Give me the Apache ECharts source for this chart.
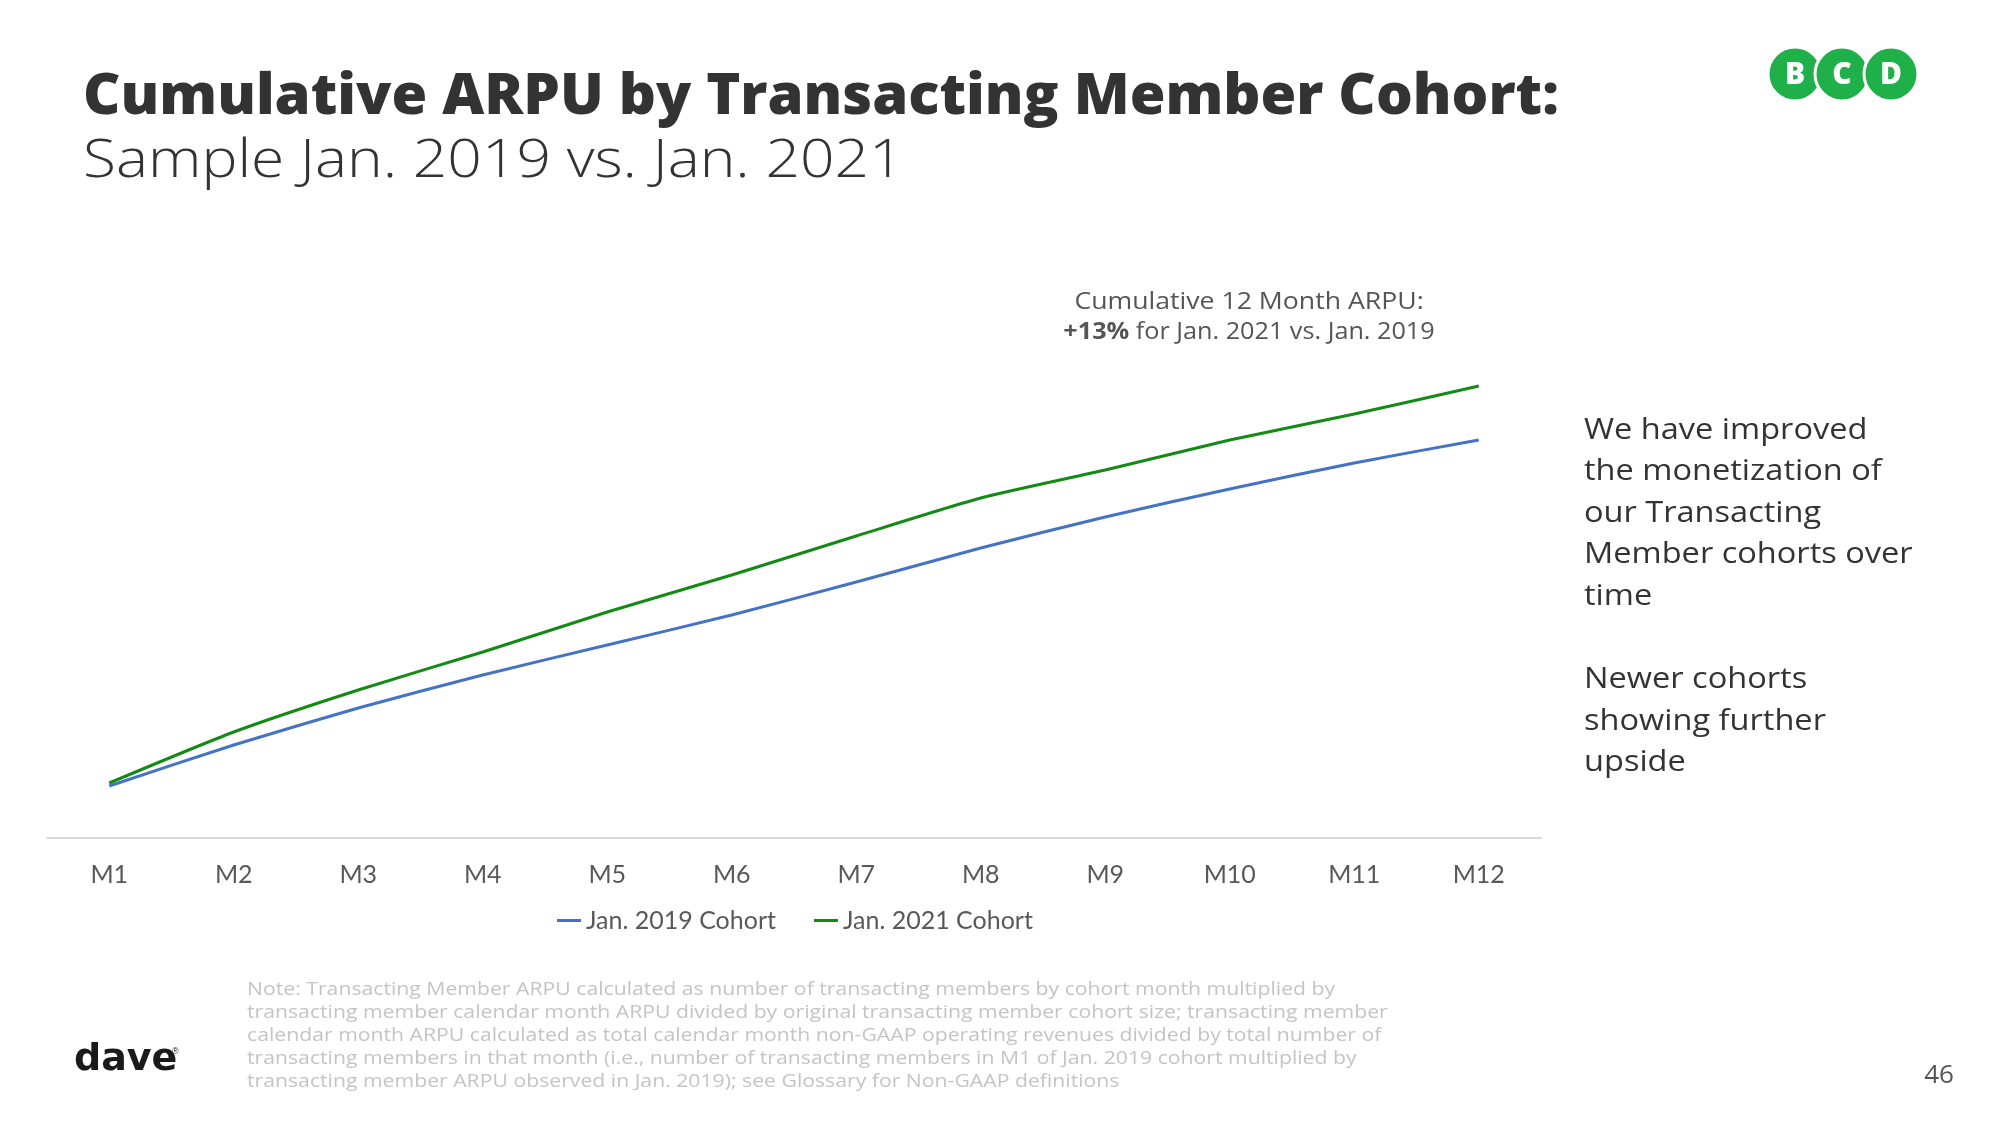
<!DOCTYPE html>
<html>
<head>
<meta charset="utf-8">
<script src="https://cdn.jsdelivr.net/npm/echarts@6/dist/echarts.min.js"></script>
<style>
html,body{margin:0;padding:0;background:#fff;}
#chart{width:2000px;height:1125px;}
</style>
</head>
<body>
<div id="chart"></div>
<script>
// ---- data ----
var categories = ['M1','M2','M3','M4','M5','M6','M7','M8','M9','M10','M11','M12'];
var cohort2019 = [10.4, 18.6, 26.0, 32.6, 38.6, 44.6, 51.2, 58.0, 64.2, 69.8, 75.0, 79.6];
var cohort2021 = [11.0, 21.2, 29.6, 37.2, 45.2, 52.6, 60.4, 68.0, 73.6, 79.6, 84.8, 90.4];
var seriesNames = ['Jan. 2019 Cohort', 'Jan. 2021 Cohort'];
var titleText = 'Cumulative ARPU by Transacting Member Cohort:';
var subtitleText = 'Sample Jan. 2019 vs. Jan. 2021';
var annoLine1 = 'Cumulative 12 Month ARPU:';
var annoBold = '+13%';
var annoRest = ' for Jan. 2021 vs. Jan. 2019';
var sideLines = ['We have improved','the monetization of','our Transacting','Member cohorts over','time','','Newer cohorts','showing further','upside'];
var noteLines = [
 'Note: Transacting Member ARPU calculated as number of transacting members by cohort month multiplied by',
 'transacting member calendar month ARPU divided by original transacting member cohort size; transacting member',
 'calendar month ARPU calculated as total calendar month non-GAAP operating revenues divided by total number of',
 'transacting members in that month (i.e., number of transacting members in M1 of Jan. 2019 cohort multiplied by',
 'transacting member ARPU observed in Jan. 2019); see Glossary for Non-GAAP definitions'
];
var pageNum = '46';

var chart = echarts.init(document.getElementById('chart'), null, {renderer:'canvas'});

var bodyFont = '"Open Sans", "DejaVu Sans", sans-serif';
var graphics = [];
graphics.push({type:'text', x:83, y:70, scaleX:1.033, style:{text:titleText, font:'800 56px "Open Sans", sans-serif', fill:'#333333', verticalAlign:'top'}});
graphics.push({type:'text', x:83, y:135, scaleX:1.12, style:{text:subtitleText, font:'300 54px "Open Sans", sans-serif', fill:'#333333', verticalAlign:'top'}});
// annotation
graphics.push({type:'text', x:1249, y:302, scaleX:1.11, style:{text:annoLine1, font:'400 24px '+bodyFont, fill:'#555555', align:'center', verticalAlign:'middle'}});
graphics.push({type:'text', x:1249, y:332, scaleX:1.05, style:{
  text:'{b|'+annoBold+'}{r|'+annoRest+'}', align:'center', verticalAlign:'middle',
  rich:{b:{font:'700 24px '+bodyFont, fill:'#555555'}, r:{font:'400 24px '+bodyFont, fill:'#555555'}}
}});
// side text
sideLines.forEach(function(t,i){
  if(!t) return;
  graphics.push({type:'text', x:1584, y:430+i*41.6, scaleX:1.085, style:{text:t, font:'400 30px '+bodyFont, fill:'#333333', verticalAlign:'middle'}});
});
// note
noteLines.forEach(function(t,i){
  graphics.push({type:'text', x:247, y:990+i*23, scaleX:1.116, style:{text:t, font:'400 19px '+bodyFont, fill:'#c4c4c4', verticalAlign:'middle'}});
});
// page number
graphics.push({type:'text', x:1939, y:1076, style:{text:pageNum, font:'400 26px '+bodyFont, fill:'#555555', align:'center', verticalAlign:'middle'}});
// dave logo
graphics.push({type:'text', x:74, y:1060, style:{text:'dave', font:'900 38px "DejaVu Sans", sans-serif', fill:'#1a1a1a', verticalAlign:'middle'}});
graphics.push({type:'text', x:172, y:1052, style:{text:'®', font:'400 9px sans-serif', fill:'#1a1a1a', verticalAlign:'middle'}});
// BCD logo
var bcd = [['B',1795],['C',1842],['D',1891]];
bcd.forEach(function(b){
  graphics.push({type:'circle', shape:{cx:b[1], cy:74, r:27}, style:{fill:'#1fb04a', stroke:'#ffffff', lineWidth:3}, z:10});
});
bcd.forEach(function(b){
  graphics.push({type:'text', x:b[1], y:75, z:11, style:{text:b[0], font:'800 30px "Open Sans", sans-serif', fill:'#ffffff', align:'center', verticalAlign:'middle'}});
});

chart.setOption({
  animation:false,
  backgroundColor:'#ffffff',
  grid:{left:47, right:459, top:338, bottom:287},
  xAxis:{
    type:'category', data:categories, boundaryGap:true,
    axisLine:{show:true, lineStyle:{color:'#d9d9d9', width:2}},
    axisTick:{show:false},
    axisLabel:{color:'#595959', fontSize:25, fontFamily:'"Liberation Sans Narrow", "Lato", sans-serif', margin:24}
  },
  yAxis:{type:'value', min:0, max:100, show:false, splitLine:{show:false}},
  legend:{
    left:552, top:903, itemWidth:24, itemHeight:3, icon:'rect', itemGap:38,
    textStyle:{color:'#595959', fontSize:25, fontFamily:'"Liberation Sans Narrow", "Lato", sans-serif'},
    data:seriesNames
  },
  series:[
    {name:seriesNames[0], type:'line', data:cohort2019, smooth:0.2, symbol:'none', lineStyle:{color:'#4472c4', width:3}, itemStyle:{color:'#4472c4'}},
    {name:seriesNames[1], type:'line', data:cohort2021, smooth:0.2, symbol:'none', lineStyle:{color:'#138a13', width:3}, itemStyle:{color:'#138a13'}}
  ],
  graphic:graphics
});
</script>
</body>
</html>
